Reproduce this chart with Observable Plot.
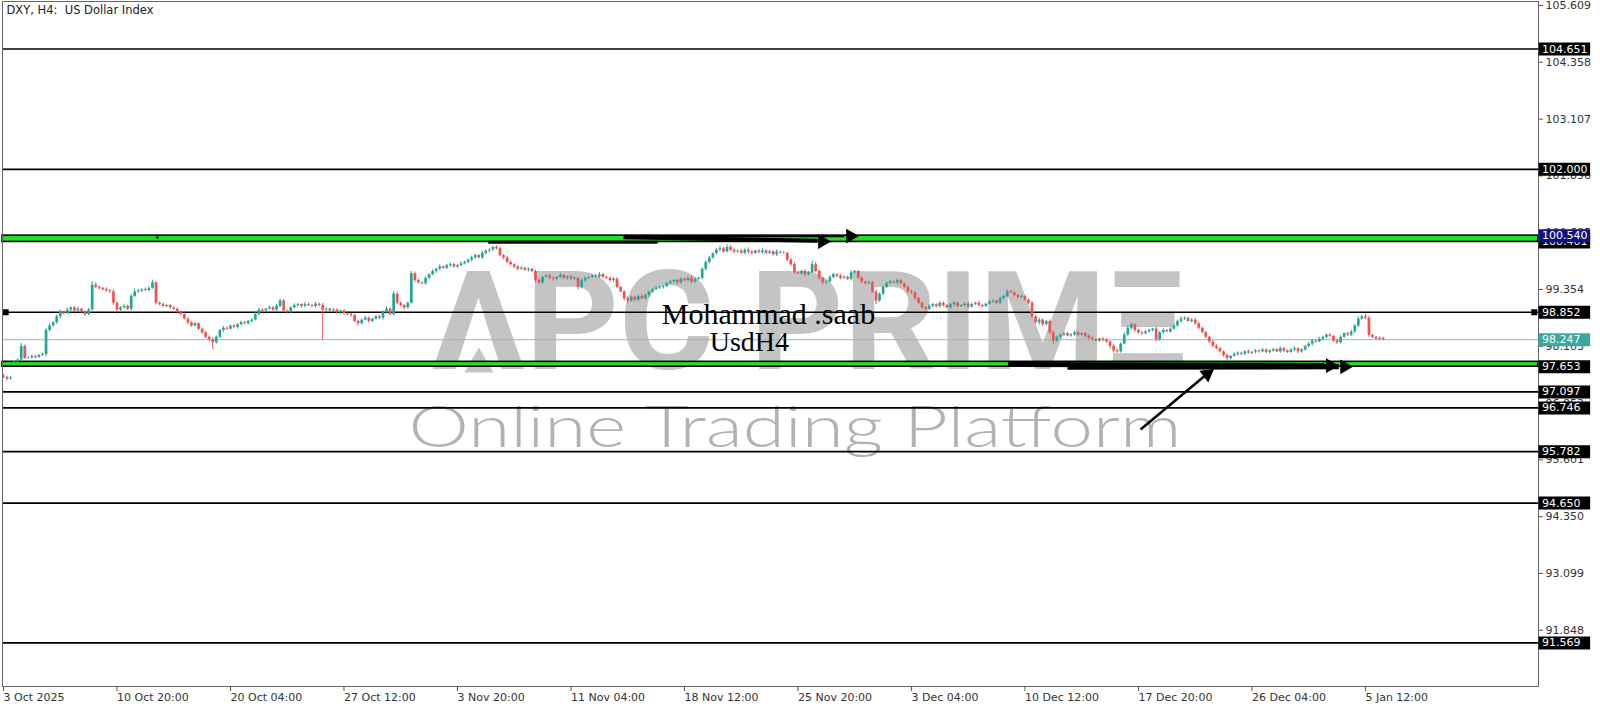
<!DOCTYPE html>
<html><head><meta charset="utf-8">
<script src="https://cdn.jsdelivr.net/npm/d3@7"></script>
<script src="https://cdn.jsdelivr.net/npm/@observablehq/plot@0.6"></script>
<style>html,body{margin:0;padding:0;background:#fff;overflow:hidden}</style>
</head><body><div id="chart"></div>
<script>
const title = "DXY, H4:\u00a0\u00a0US Dollar Index";
const xTickIdx = [0,32,64,96,128,160,192,224,256,288,320,352,384];
const xLabels = ["3 Oct 2025","10 Oct 20:00","20 Oct 04:00","27 Oct 12:00","3 Nov 20:00","11 Nov 04:00","18 Nov 12:00","25 Nov 20:00","3 Dec 04:00","10 Dec 12:00","17 Dec 20:00","26 Dec 04:00","5 Jan 12:00"];
const yTicks = [105.609,104.358,103.107,101.856,100.605,99.354,98.103,96.852,95.601,94.350,93.099,91.848];

const closes = [
97.42,97.38,97.40,97.76,97.80,98.10,97.84,97.85,97.88,97.86,
97.90,97.92,98.45,98.55,98.62,98.75,98.85,98.82,98.90,98.95,
98.88,98.92,98.85,98.80,98.90,99.45,99.40,99.38,99.35,99.32,
99.30,99.05,98.90,98.95,98.98,98.92,99.20,99.30,99.32,99.35,
99.33,99.38,99.50,99.05,99.02,98.98,99.00,98.95,98.92,98.85,
98.80,98.70,98.62,98.55,98.60,98.48,98.40,98.30,98.25,98.18,
98.30,98.45,98.50,98.48,98.55,98.52,98.58,98.62,98.60,98.65,
98.68,98.80,98.90,98.88,98.92,98.95,98.90,98.98,99.10,98.88,
98.85,98.95,99.00,99.02,98.98,99.02,99.00,98.98,99.03,99.00,
98.90,98.92,98.88,98.90,98.85,98.88,98.82,98.80,98.78,98.65,
98.60,98.68,98.72,98.65,98.70,98.75,98.72,98.85,98.92,98.80,
99.25,99.05,99.00,98.95,99.05,99.70,99.55,99.50,99.48,99.60,
99.68,99.75,99.80,99.85,99.82,99.88,99.90,99.85,99.88,99.92,
99.95,100.00,100.05,100.10,100.05,100.15,100.20,100.22,100.28,100.25,
100.10,100.05,99.95,99.90,99.85,99.80,99.82,99.78,99.80,99.75,
99.55,99.50,99.62,99.65,99.60,99.58,99.62,99.66,99.60,99.63,
99.58,99.60,99.40,99.55,99.60,99.62,99.65,99.63,99.68,99.62,
99.60,99.55,99.58,99.40,99.30,99.15,99.10,99.18,99.12,99.20,
99.15,99.22,99.30,99.35,99.38,99.40,99.42,99.48,99.52,99.55,
99.50,99.58,99.55,99.60,99.52,99.58,99.60,99.80,99.95,100.05,
100.14,100.22,100.25,100.18,100.28,100.22,100.18,100.20,100.15,100.22,
100.18,100.15,100.20,100.17,100.20,100.15,100.18,100.12,100.18,100.16,
100.15,100.00,99.90,99.72,99.70,99.75,99.68,99.72,99.90,99.75,
99.60,99.50,99.52,99.62,99.68,99.65,99.60,99.62,99.58,99.72,
99.75,99.60,99.52,99.48,99.50,99.30,99.10,99.25,99.40,99.48,
99.52,99.50,99.55,99.48,99.40,99.30,99.28,99.15,99.05,98.95,
98.92,98.98,99.02,98.98,99.05,99.00,98.95,99.02,99.05,98.98,
99.00,99.03,98.97,99.02,99.05,99.00,98.98,99.03,99.08,99.10,
99.05,99.15,99.20,99.30,99.28,99.22,99.18,99.20,99.12,99.05,
98.75,98.62,98.68,98.58,98.65,98.40,98.22,98.30,98.35,98.38,
98.33,98.36,98.40,98.35,98.38,98.32,98.28,98.25,98.22,98.26,
98.24,98.20,98.10,98.00,97.98,98.15,98.35,98.50,98.58,98.45,
98.40,98.38,98.42,98.45,98.48,98.25,98.40,98.45,98.42,98.48,
98.55,98.65,98.70,98.72,98.65,98.68,98.60,98.50,98.40,98.30,
98.20,98.10,98.05,97.98,97.90,97.83,97.88,97.92,97.95,97.93,
97.98,97.95,97.97,98.00,97.98,98.02,97.97,98.00,98.03,97.98,
98.05,98.00,97.97,98.02,98.05,97.98,98.02,98.10,98.15,98.22,
98.20,98.26,98.30,98.35,98.32,98.22,98.18,98.30,98.38,98.35,
98.42,98.55,98.70,98.75,98.72,98.34,98.30,98.26,98.28,98.25];
const firstOpen = 97.45;
const gapOpens = [[3, 97.74]];
// wick extensions beyond the body, in hundredths
const upWick = [
3,2,4,3,2,6,3,2,3,2, 2,3,4,5,3,4,6,3,4,2, 3,5,2,3,4,8,5,3,2,4, 3,4,3,2,5,3,4,6,3,2,
4,3,5,2,3,4,2,3,2,3, 2,4,3,2,3,2,3,2,3,4, 3,2,4,3,2,3,2,4,3,2, 3,5,4,3,2,4,3,5,4,3,
2,3,4,3,2,5,3,2,4,3, 5,3,2,4,3,2,3,2,3,2, 3,2,4,3,2,3,4,3,5,3, 6,4,3,2,3,5,4,3,2,3,
2,4,3,5,2,3,4,3,2,4, 3,2,4,3,2,5,3,4,2,4, 3,2,4,3,2,3,4,2,3,2, 3,4,2,3,4,3,2,5,3,2,
4,3,2,4,3,2,3,4,5,3, 2,3,4,3,2,3,4,3,2,3, 4,3,2,3,4,3,2,4,3,2, 3,4,2,3,5,3,2,3,4,3,
2,4,5,3,6,4,3,2,4,3, 5,3,2,4,6,3,4,3,5,2, 3,2,3,4,2,3,4,3,8,4, 3,2,3,4,3,2,3,4,3,5,
3,2,3,2,4,3,4,3,2,4, 3,2,4,3,2,3,4,2,3,2, 3,4,3,2,4,3,2,3,4,3, 2,3,4,3,2,5,3,2,4,3,
2,4,3,5,4,3,2,3,2,3, 4,3,5,3,2,3,4,3,2,4, 3,2,4,3,2,3,4,3,2,3, 4,3,2,3,4,3,5,4,3,2,
3,2,4,3,2,5,3,4,2,3, 4,3,5,3,2,3,4,3,2,3, 2,3,4,3,2,3,2,4,3,2, 3,4,2,3,2,4,3,2,3,2,
4,3,2,3,4,2,3,2,4,3, 2,4,3,2,3,2,4,3,2,3, 4,3,5,4,6,4,3,2,3,2];
const downWick = [
3,4,2,3,4,2,3,2,3,4, 3,2,5,3,2,3,4,3,2,3, 4,2,3,4,3,2,3,4,3,2, 3,5,4,3,2,3,4,2,3,3,
2,3,2,4,3,2,3,4,3,2, 3,2,4,3,2,3,4,3,4,15, 3,2,4,3,2,3,4,3,2,3, 3,2,3,4,3,2,3,4,2,3,
4,3,2,3,4,3,2,3,4,3, 67,3,4,2,3,4,3,2,4,3, 5,3,2,4,3,2,3,4,3,2, 3,4,3,5,3,2,4,3,2,3,
3,2,4,3,2,3,4,3,2,3, 2,3,4,3,2,3,4,3,2,3, 3,4,2,3,4,3,2,3,4,3, 5,4,3,2,3,4,3,2,3,4,
3,2,6,3,4,3,2,3,4,3, 2,3,4,3,2,5,6,3,4,3, 2,3,4,3,2,3,4,3,2,3, 4,3,2,3,4,3,2,3,4,3,
3,2,4,3,2,3,4,3,2,3, 4,3,2,3,4,3,2,3,4,3, 2,3,4,3,2,3,4,3,2,3, 5,4,3,2,3,4,3,2,3,4,
3,2,4,3,2,3,8,3,4,3, 2,3,4,3,2,3,4,3,2,3, 4,3,2,3,4,3,2,3,4,3, 2,3,4,3,2,3,4,3,2,3,
3,4,2,3,2,3,4,3,2,3, 4,3,5,4,3,4,8,3,4,3, 2,3,4,3,2,3,4,3,2,3, 4,3,6,5,4,3,2,3,4,3,
3,4,3,2,3,5,4,3,2,3, 2,3,4,3,2,3,4,3,2,3, 4,3,2,3,4,6,3,2,3,4, 3,2,3,4,3,2,3,4,3,2,
3,4,3,2,3,4,3,2,3,4, 3,2,4,3,2,3,4,3,2,3, 3,4,3,2,3,4,3,2,3,2];

const blackLevels = [104.651, 102.000, 98.852, 97.097, 96.746, 95.782, 94.650, 91.569];
const bands = [{y1: 100.401, y2: 100.540}, {y1: 97.653, y2: 97.760}];
const bidPrice = 98.247;
const labelLevels = [104.651, 102.000, 100.401, 98.852, 97.653, 97.097, 96.746, 95.782, 94.650, 91.569];
const selectedLevel = 100.540;

// annotations in (bar index, price)
const arrowLines = [
  {x1: 136.7, y1: 100.392, x2: 184.4, y2: 100.392, w: 3},
  {x1: 174.8, y1: 100.505, x2: 229.5, y2: 100.425, w: 4},
  {x1: 180.0, y1: 100.530, x2: 237.0, y2: 100.525, w: 2},
  {x1: 283.3, y1: 97.700, x2: 372.5, y2: 97.680, w: 5},
  {x1: 300.0, y1: 97.640, x2: 376.5, y2: 97.650, w: 5},
  {x1: 320.6, y1: 96.270, x2: 339.0, y2: 97.470, w: 2.5}
];
const arrowHeads = [
  {x: 230.9, y: 100.41, rot: 90},
  {x: 238.8, y: 100.53, rot: 90},
  {x: 374.1, y: 97.675, rot: 90},
  {x: 378.1, y: 97.650, rot: 90},
  {x: 339.4, y: 97.49, rot: 53}
];
const markers = [{x: 0.6, y: 98.852}, {x: 431.6, y: 98.852}, {x: 43.4, y: 100.50}];
const logoText = [{x: 227.4, y: 98.57, t: "ΛPC PRIMΞ"}];
const logoInner = [{x: 134.05, y: 97.708}];
const sloganText = [{x: 223.2, y: 96.283, t: "Online Trading Platform"}];
const authorText = [{x: 215.7, y: 98.816, t: "Mohammad .saab", s: 30}, {x: 210.3, y: 98.186, t: "UsdH4", s: 28}];

const gapMap = new Map(gapOpens);
const candles = closes.map((c, i) => {
  const o = gapMap.has(i) ? gapMap.get(i) : (i === 0 ? firstOpen : closes[i - 1]);
  return {i, o, c, h: Math.max(o, c) + upWick[i] / 100, l: Math.min(o, c) - downWick[i] / 100, up: c >= o};
});
const bull = candles.filter(d => d.up), bear = candles.filter(d => !d.up);

const xDomain = [-0.28, 432.8];
const yDomain = [90.609, 105.697];
const bx1 = xDomain[1] + 0.15, bx2 = xDomain[1] + 14.7;
const bullColor = "#26a69a", bearColor = "#ef5350";
const wmGray = "#c4c4c4";

const chart = Plot.plot({
  width: 1600, height: 711,
  marginLeft: 2, marginRight: 62, marginTop: 1, marginBottom: 25,
  x: {type: "linear", domain: xDomain},
  y: {type: "linear", domain: yDomain},
  style: {fontFamily: "DejaVu Sans, sans-serif", fontSize: "11px", background: "#fff", color: "#222"},
  marks: [
    Plot.text(logoText, {x: "x", y: "y", text: "t", fontSize: 138, fontFamily: "Roboto", fontWeight: 700, fill: wmGray, textAnchor: "middle", lineAnchor: "middle"}),
    Plot.dot(logoInner, {x: "x", y: "y", symbol: "triangle", r: 10.7, fill: wmGray, stroke: "none"}),
    Plot.text(sloganText, {x: "x", y: "y", text: "t", fontSize: 58, fontFamily: "Lato", fontWeight: 300, fill: "#b2b2b2", textAnchor: "middle", lineAnchor: "middle"}),
    Plot.rect(bands, {x1: xDomain[0], x2: xDomain[1], y1: "y1", y2: "y2", fill: "#22e022", stroke: "#000", strokeWidth: 1.6}),
    Plot.ruleY(blackLevels, {y: d => d, stroke: "#000", strokeWidth: 1.7}),
    Plot.ruleY([bidPrice], {y: d => d, stroke: "#7cc4c0", strokeWidth: 1}),
    Plot.ruleX(bull, {x: "i", y1: "l", y2: "h", stroke: bullColor, strokeWidth: 1}),
    Plot.ruleX(bear, {x: "i", y1: "l", y2: "h", stroke: bearColor, strokeWidth: 1}),
    Plot.ruleX(bull, {x: "i", y1: "o", y2: "c", stroke: bullColor, strokeWidth: 2.7}),
    Plot.ruleX(bear, {x: "i", y1: "o", y2: "c", stroke: bearColor, strokeWidth: 2.7}),
    Plot.link(arrowLines, {x1: "x1", y1: "y1", x2: "x2", y2: "y2", stroke: "#000", strokeWidth: "w"}),
    Plot.dot(arrowHeads, {x: "x", y: "y", rotate: "rot", symbol: "triangle", r: 5.5, fill: "#000", stroke: "none"}),
    Plot.dot(markers.slice(0, 2), {x: "x", y: "y", symbol: "square", r: 3.4, fill: "#000", stroke: "none"}),
    Plot.dot(markers.slice(2), {x: "x", y: "y", r: 1.3, fill: "#000", stroke: "none"}),
    Plot.text(authorText, {x: "x", y: "y", text: "t", fontSize: "s", fontFamily: "Liberation Serif, Times New Roman, serif", fill: "#000", textAnchor: "middle", lineAnchor: "middle"}),
    Plot.text([title], {frameAnchor: "top-left", dx: 4, dy: 4, fontSize: 11.5, fill: "#222"}),
    Plot.frame({stroke: "#666"}),
    Plot.axisY(yTicks, {anchor: "right", label: null, tickSize: 4, tickPadding: 3, tickFormat: d => d.toFixed(3), stroke: "#555", fill: "#333", fontSize: 11}),
    Plot.axisX(xTickIdx, {anchor: "bottom", label: null, tickSize: 5, tickPadding: 2, tickFormat: d => xLabels[xTickIdx.indexOf(d)], textAnchor: "start", stroke: "#555", fill: "#333", fontSize: 11}),
    Plot.ruleY(labelLevels, {y: d => d, x1: bx1, x2: bx2, stroke: "#000", strokeWidth: 13}),
    Plot.text(labelLevels, {y: d => d, x: bx1, dx: 3, text: d => d.toFixed(3), textAnchor: "start", fill: "#fff", fontSize: 11}),
    Plot.ruleY([selectedLevel], {y: d => d, x1: bx1, x2: bx2, stroke: "#10108a", strokeWidth: 13}),
    Plot.text([selectedLevel], {y: d => d, x: bx1, dx: 3, text: d => d.toFixed(3), textAnchor: "start", fill: "#fff", fontSize: 11}),
    Plot.ruleY([bidPrice], {y: d => d, x1: bx1, x2: bx2, stroke: "#3aa99e", strokeWidth: 13}),
    Plot.text([bidPrice], {y: d => d, x: bx1, dx: 3, text: d => d.toFixed(3), textAnchor: "start", fill: "#fff", fontSize: 11})
  ]
});
chart.querySelectorAll("text").forEach(t => {
  if (t.textContent === logoText[0].t) { t.setAttribute("textLength", 757); t.setAttribute("lengthAdjust", "spacingAndGlyphs"); }
  if (t.textContent === sloganText[0].t) { t.setAttribute("textLength", 773); t.setAttribute("lengthAdjust", "spacingAndGlyphs"); }
});
document.getElementById("chart").appendChild(chart);
</script>
</body></html>
